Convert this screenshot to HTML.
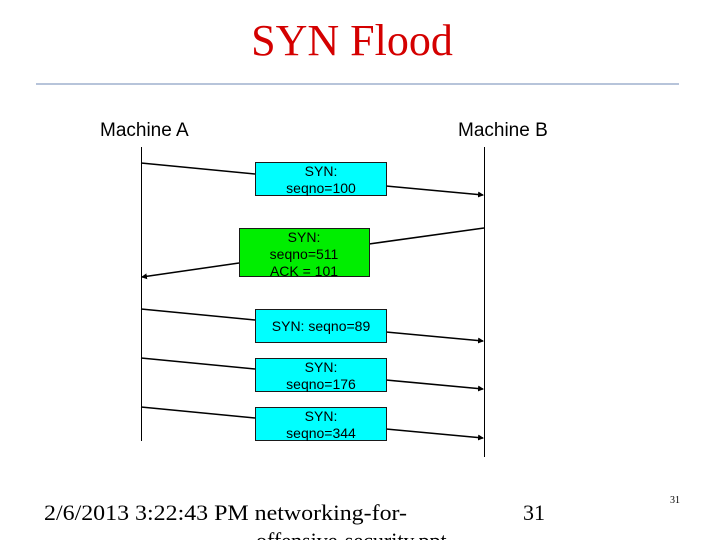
<!DOCTYPE html>
<html><head><meta charset="utf-8"><style>
html,body{margin:0;padding:0;background:#fff;width:720px;height:540px;overflow:hidden}
</style></head><body>
<svg width="720" height="540" xmlns="http://www.w3.org/2000/svg">
<defs><marker id="ah" markerWidth="6" markerHeight="6" refX="5" refY="3" orient="auto" markerUnits="userSpaceOnUse"><path d="M0,0 L6,3 L0,6 z" fill="#000"/></marker></defs>
<text x="352" y="55" text-anchor="middle" font-family="Liberation Serif, serif" font-size="44" fill="#d40000">SYN Flood</text>
<line x1="36" y1="84" x2="679" y2="84" stroke="#8ca0c4" stroke-width="1.3"/>
<g font-family="Liberation Sans, sans-serif" font-size="19" fill="#000">
<text x="100" y="136">Machine A</text>
<text x="458" y="136">Machine B</text>
</g>
<g stroke="#000" stroke-width="1">
<line x1="141.5" y1="147" x2="141.5" y2="441"/>
<line x1="484.5" y1="147" x2="484.5" y2="457"/>
</g>
<g stroke="#000" stroke-width="1.6" fill="none">
<line x1="141" y1="163" x2="255" y2="174"/><line x1="386" y1="186" x2="483" y2="195" marker-end="url(#ah)"/>
<line x1="484" y1="228" x2="369" y2="244"/><line x1="239" y1="263" x2="142" y2="277" marker-end="url(#ah)"/>
<line x1="141" y1="309" x2="255" y2="320"/><line x1="386" y1="332" x2="483" y2="341" marker-end="url(#ah)"/>
<line x1="141" y1="358" x2="255" y2="369"/><line x1="386" y1="380" x2="483" y2="389" marker-end="url(#ah)"/>
<line x1="141" y1="407" x2="255" y2="418"/><line x1="386" y1="429" x2="483" y2="438" marker-end="url(#ah)"/>
</g>
<g stroke="#1a1a1a" stroke-width="1">
<rect x="255.5" y="162.5" width="131" height="33" fill="#00ffff"/>
<rect x="239.5" y="228.5" width="130" height="48" fill="#00ee00"/>
<rect x="255.5" y="309.5" width="131" height="33" fill="#00ffff"/>
<rect x="255.5" y="358.5" width="131" height="33" fill="#00ffff"/>
<rect x="255.5" y="407.5" width="131" height="33" fill="#00ffff"/>
</g>
<g font-family="Liberation Sans, sans-serif" font-size="14" fill="#000" text-anchor="middle">
<text x="321" y="176">SYN:</text><text x="321" y="193">seqno=100</text>
<text x="304" y="242">SYN:</text><text x="304" y="259">seqno=511</text><text x="304" y="276">ACK = 101</text>
<text x="321" y="331">SYN: seqno=89</text>
<text x="321" y="372">SYN:</text><text x="321" y="389">seqno=176</text>
<text x="321" y="421">SYN:</text><text x="321" y="438">seqno=344</text>
</g>
<g font-family="Liberation Serif, serif" fill="#000">
<text x="44" y="520" font-size="22" textLength="363" lengthAdjust="spacingAndGlyphs">2/6/2013 3:22:43 PM networking-for-</text>
<text x="523" y="520" font-size="22">31</text>
<text x="256" y="548" font-size="22">offensive-security.ppt</text>
<text x="670" y="503" font-size="10">31</text>
</g>
</svg>
</body></html>
